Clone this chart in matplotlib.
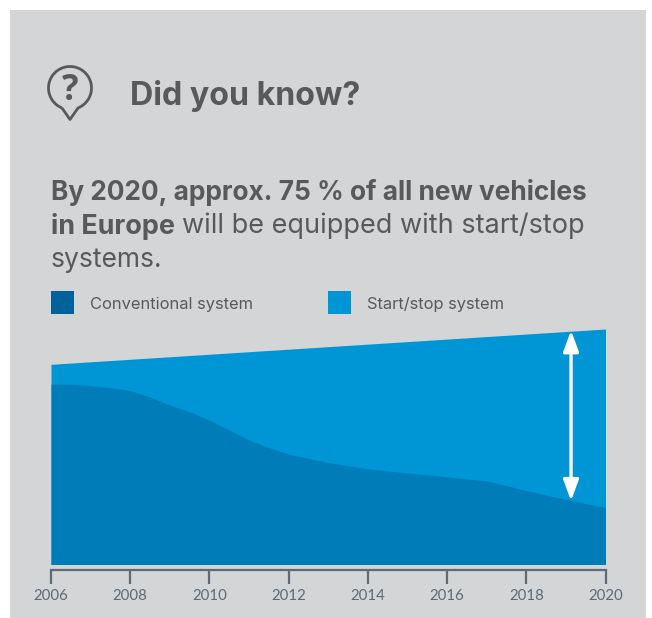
import numpy as np
import matplotlib.pyplot as plt
from matplotlib.patches import Rectangle, PathPatch
from matplotlib.path import Path

plt.rcParams['font.family'] = ['Inter', 'DejaVu Sans']

# share of vehicles (2020 total = 100)
total_years = [2006, 2020]
total = [85, 100]
conv_years = [2006, 2006.5, 2007, 2007.5, 2008, 2008.5, 2009, 2009.5, 2010, 2010.5, 2011, 2011.5,
              2012, 2012.5, 2013, 2013.5, 2014, 2015, 2016, 2017, 2017.5, 2018, 2019, 2020]
conventional = [76.6, 76.5, 76.0, 75.1, 73.9, 71.1, 67.7, 64.8, 61.4, 57.1, 52.9, 49.7,
                46.9, 45.0, 43.3, 42.0, 40.6, 38.9, 37.2, 35.5, 33.5, 31.4, 27.6, 24.2]
tick_years = [2006, 2008, 2010, 2012, 2014, 2016, 2018, 2020]
legend_names = ["Conventional system", "Start/stop system"]

W, H = 652, 618
BG = '#d3d5d7'
TEXT = '#58595b'
AXIS = '#5f6a74'
START_STOP = '#0096d6'
CONV_AREA = '#007cb9'
CONV_LEGEND = '#00629a'

fig = plt.figure(figsize=(W / 100, H / 100), dpi=100, facecolor='white')

# pixel overlay for panel, icon and texts
bg = fig.add_axes([0, 0, 1, 1], zorder=0)
bg.set_xlim(0, W)
bg.set_ylim(H, 0)
bg.axis('off')
bg.add_patch(Rectangle((10, 10), 636, 608, color=BG, lw=0))

# question mark bubble
t = np.radians(np.linspace(112, 428, 60))
cx, cy, r = 70, 88, 21.5
verts = [(cx + r * np.cos(a), cy + r * np.sin(a)) for a in t]
verts = verts + [(70, 119.5), verts[0]]
bg.add_patch(PathPatch(Path(verts), fc='none', ec=TEXT, lw=2, joinstyle='round'))
bg.text(70.5, 91, "?", fontsize=25, fontweight='bold', color=TEXT, ha='center', va='center',
        family=['Open Sans', 'DejaVu Sans'])

bg.text(130, 96, "Did you know?", fontsize=23.2, fontweight='bold', color=TEXT, va='center')

bg.text(51, 192, "By 2020, approx. 75 % of all new vehicles", fontsize=18.9, fontweight='bold',
        color=TEXT, va='center')
bg.text(51, 226, "in Europe", fontsize=19.4, fontweight='bold', color=TEXT, va='center')
bg.text(182, 226, "will be equipped with start/stop", fontsize=19.5, color=TEXT, va='center')
bg.text(51, 260, "systems.", fontsize=19, color=TEXT, va='center')

bg.add_patch(Rectangle((51, 291), 23, 23, color=CONV_LEGEND, lw=0))
bg.add_patch(Rectangle((328, 291), 23, 23, color=START_STOP, lw=0))
bg.text(90, 304, legend_names[0], fontsize=11.85, color=TEXT, va='center')
bg.text(367, 304, legend_names[1], fontsize=11.85, color=TEXT, va='center')

# chart area
left, right, top, axis_y = 51, 605.5, 329, 569.5
ax = fig.add_axes([left / W, 1 - axis_y / H, (right - left) / W, (axis_y - top) / H], zorder=1)
ax.patch.set_alpha(0)
ax.set_xlim(2006, 2020)
ax.set_ylim(-2.13, 100)
ax.fill_between(total_years, 0, total, color=START_STOP, lw=0)
ax.fill_between(conv_years, 0, conventional, color=CONV_AREA, lw=0)

ax.annotate("", xy=(2019.13, 99.4), xytext=(2019.13, 27),
            arrowprops=dict(arrowstyle='<|-|>,head_length=0.9,head_width=0.33', color='white',
                            lw=2.4, shrinkA=0, shrinkB=0, mutation_scale=14))

for s in ['top', 'left', 'right']:
    ax.spines[s].set_visible(False)
ax.spines['bottom'].set_color(AXIS)
ax.spines['bottom'].set_linewidth(1.6)
ax.set_yticks([])
ax.set_xticks(tick_years)
ax.tick_params(axis='x', length=10, width=1.6, color=AXIS, labelcolor=AXIS, labelsize=10.8, pad=4)
for lab in ax.get_xticklabels():
    lab.set_family(['Lato', 'DejaVu Sans'])

fig.savefig("out.png", dpi=100)
